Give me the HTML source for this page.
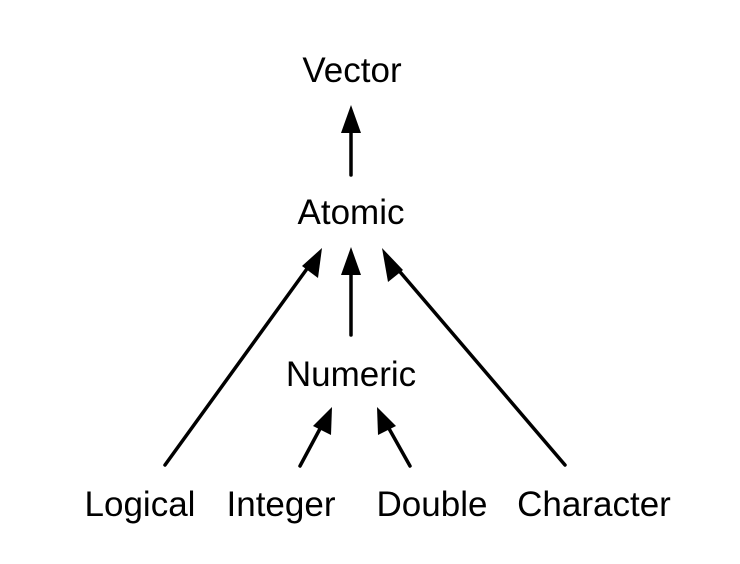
<!DOCTYPE html>
<html><head><style>
html,body{margin:0;padding:0;background:#fff;}
svg{display:block;}
text{font-family:"Liberation Sans",Arial,sans-serif;font-size:35px;fill:#000;text-anchor:middle;}
</style></head><body>
<svg width="740" height="564" viewBox="0 0 740 564" xmlns="http://www.w3.org/2000/svg">
<defs>
<marker id="a" markerWidth="8" markerHeight="8" refX="7.5" refY="4" orient="auto" markerUnits="userSpaceOnUse" viewBox="0 0 8 8" style="overflow:visible">
<path d="M0,0 L0,0" />
</marker>
</defs>
<text x="352" y="82">Vector</text>
<text x="351" y="224">Atomic</text>
<text x="351" y="386">Numeric</text>
<text x="140" y="516">Logical</text>
<text x="281" y="516">Integer</text>
<text x="432" y="516">Double</text>
<text x="594" y="516">Character</text>
<g stroke="#000" stroke-width="3.5" stroke-linecap="round" fill="none">
<line x1="351" y1="175" x2="351" y2="128"/>
<line x1="351" y1="335" x2="351" y2="270"/>
<line x1="165" y1="465" x2="309" y2="266"/>
<line x1="565" y1="465" x2="395" y2="266"/>
<line x1="300" y1="466" x2="322" y2="425"/>
<line x1="410" y1="466" x2="387" y2="425"/>
</g>
<g fill="#000">
<polygon points="351,105 341,133 361,133"/>
<polygon points="351,247 341,275 361,275"/>
<polygon points="322,248 318,278 302,266"/>
<polygon points="382,248 403,270 388,282"/>
<polygon points="332,407 331,435 313,426"/>
<polygon points="377,407 396,426 378,435"/>
</g>
</svg>
</body></html>
